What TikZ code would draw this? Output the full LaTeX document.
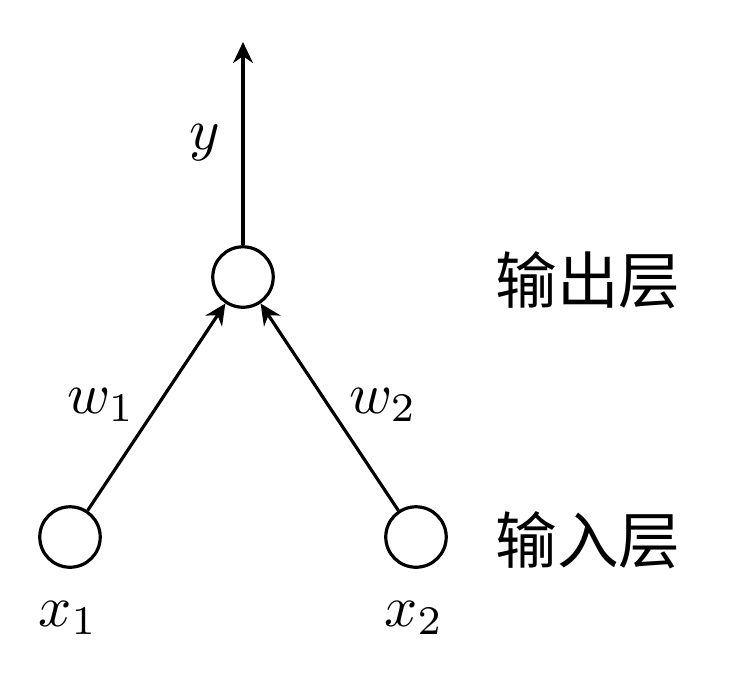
\documentclass[tikz,border=0pt]{standalone}
\usepackage{fontspec}
\newfontfamily\cjk{Noto Sans CJK SC}
\usetikzlibrary{arrows.meta}
\begin{document}
\begin{tikzpicture}[x=0.172pt,y=-0.172pt,
  neuron/.style={circle,draw,line width=0.55pt,minimum size=10.4pt,inner sep=0pt},
  conn/.style={line width=0.55pt,-{Stealth[length=3.6pt,width=3.4pt]}},
  lab/.style={inner sep=0pt},
  layerlab/.style={inner sep=0pt,font=\cjk\fontsize{10.6}{12}\selectfont}]
\useasboundingbox (0,0) rectangle (751,676);
\node[neuron] (out) at (243,277) {};
\node[neuron] (in1) at (70,537) {};
\node[neuron] (in2) at (416,537) {};
\coordinate (top) at (243,42);
\draw[conn] (out) -- (top);
\draw[conn] (in1) -- (out);
\draw[conn] (in2) -- (out);
\node[lab] (y) at (205,143) {$y$};
\node[lab] (w1) at (101,405) {$w_1$};
\node[lab] (w2) at (383,405) {$w_2$};
\node[lab] (x1) at (68,618) {$x_1$};
\node[lab] (x2) at (414,618) {$x_2$};
\node[layerlab] (lo) at (588,280) {输出层};
\node[layerlab] (li) at (588,540) {输入层};
\end{tikzpicture}
\end{document}
